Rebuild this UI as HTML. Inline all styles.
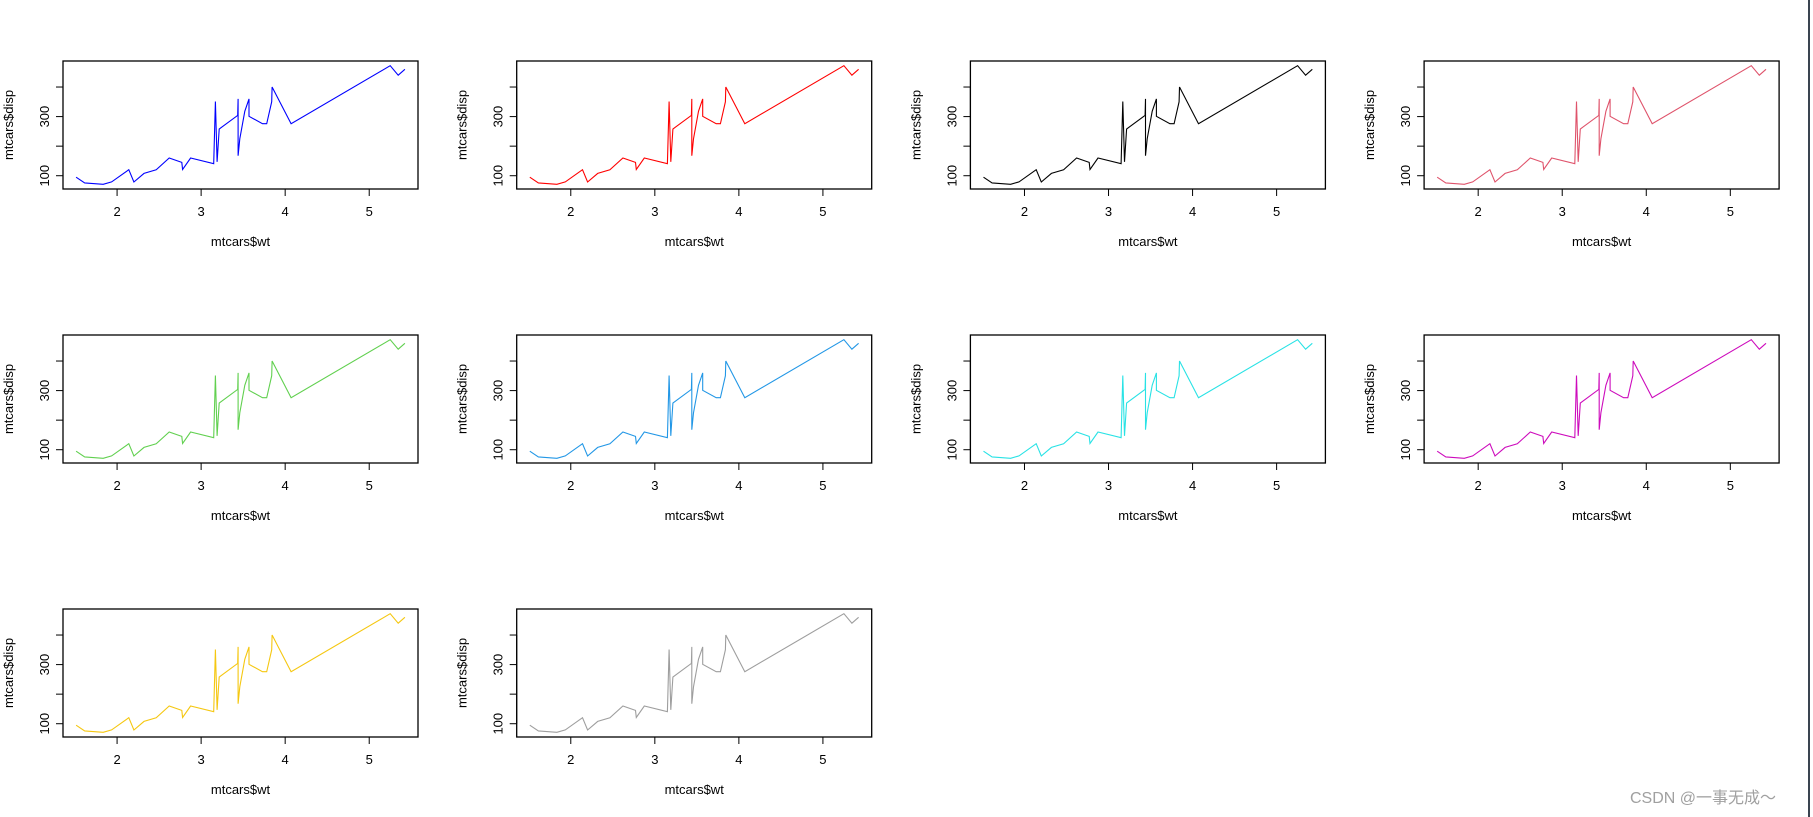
<!DOCTYPE html>
<html><head><meta charset="utf-8"><style>
html,body{margin:0;padding:0;background:#fff;width:1813px;height:817px;overflow:hidden}
svg{display:block}
text{font-family:"Liberation Sans",Arial,sans-serif;fill:#000}
.wm{font-family:"Liberation Sans","Noto Sans CJK SC",sans-serif;fill:#a0a0a0}
</style></head><body>
<svg id="chart" width="1813" height="817">
<line x1="1809" y1="0" x2="1809" y2="817" stroke="#3a4450" stroke-width="2"/>
<text class="wm" x="1630" y="803" font-size="16">CSDN @一事无成～</text>
</svg>
<script>
const wt=[1.513,1.615,1.835,1.935,2.140,2.200,2.320,2.465,2.620,2.770,2.780,2.875,3.150,3.170,3.190,3.215,3.435,3.440,3.440,3.440,3.460,3.520,3.570,3.570,3.730,3.780,3.840,3.845,4.070,5.250,5.345,5.424];
const disp=[95.1,75.7,71.1,79.0,120.3,78.7,108.0,120.1,160.0,145.0,121.0,160.0,140.8,351.0,146.7,258.0,304.0,360.0,167.6,167.6,225.0,318.0,360.0,301.0,275.8,275.8,350.0,400.0,275.8,472.0,440.0,460.0];
const colors=["#0000FF","#FF0000","#000000","#DF536B","#61D04F","#2297E6","#28E2E5","#CD0BBC","#F5C710","#9E9E9E"];
const xTicks=[2,3,4,5];
const yTicks=[100,200,300,400];
const yLabels=[100,300];
const svg=document.getElementById('chart');
const NS='http://www.w3.org/2000/svg';
function mk(tag,attrs,parent){const e=document.createElementNS(NS,tag);for(const k in attrs)e.setAttribute(k,attrs[k]);parent.appendChild(e);return e;}
const xmin=Math.min(...wt),xmax=Math.max(...wt),ymin=Math.min(...disp),ymax=Math.max(...disp);
const x0=xmin-0.04*(xmax-xmin),x1=xmax+0.04*(xmax-xmin);
const y0=ymin-0.04*(ymax-ymin),y1=ymax+0.04*(ymax-ymin);
const W=355,H=128;
colors.forEach((c,i)=>{
  const L=63+(i%4)*453.7, T=61+Math.floor(i/4)*274;
  const sx=v=>L+(v-x0)/(x1-x0)*W, sy=v=>T+H-(v-y0)/(y1-y0)*H;
  const g=mk('g',{},svg);
  
  
  const box=mk('rect',{x:L,y:T,width:W,height:H,fill:'none',stroke:'#000','stroke-width':1.3},g);
  
  
  const pts=wt.map((w,j)=>sx(w).toFixed(1)+','+sy(disp[j]).toFixed(1)).join(' ');
  const pl=mk('polyline',{points:pts,fill:'none',stroke:c,'stroke-width':1.1},g);
  
  
  const ax=mk('g',{},g);
  
  
  mk('line',{x1:sx(xTicks[0]),x2:sx(xTicks[xTicks.length-1]),y1:T+H,y2:T+H,stroke:'#000'},ax);
  xTicks.forEach(v=>{
    mk('line',{x1:sx(v),x2:sx(v),y1:T+H,y2:T+H+7,stroke:'#000'},ax);
    const t=mk('text',{x:sx(v),y:T+H+27,'font-size':13,'text-anchor':'middle'},ax);t.textContent=v;
    
    
  });
  const ay=mk('g',{},g);
  
  
  mk('line',{x1:L,x2:L,y1:sy(yTicks[0]),y2:sy(yTicks[yTicks.length-1]),stroke:'#000'},ay);
  yTicks.forEach(v=>{
    mk('line',{x1:L,x2:L-7,y1:sy(v),y2:sy(v),stroke:'#000'},ay);
  });
  yLabels.forEach(v=>{
    const t=mk('text',{x:0,y:0,'font-size':13,'text-anchor':'middle',transform:`translate(${L-14},${sy(v)}) rotate(-90)`},ay);t.textContent=v;
    
    
  });
  const xl=mk('text',{x:L+W/2,y:T+H+57,'font-size':13,'text-anchor':'middle'},g);xl.textContent='mtcars$wt';
  
  
  const yl=mk('text',{x:0,y:0,'font-size':13,'text-anchor':'middle',transform:`translate(${L-50},${T+H/2}) rotate(-90)`},g);yl.textContent='mtcars$disp';
  
  
});
</script>
</body></html>
